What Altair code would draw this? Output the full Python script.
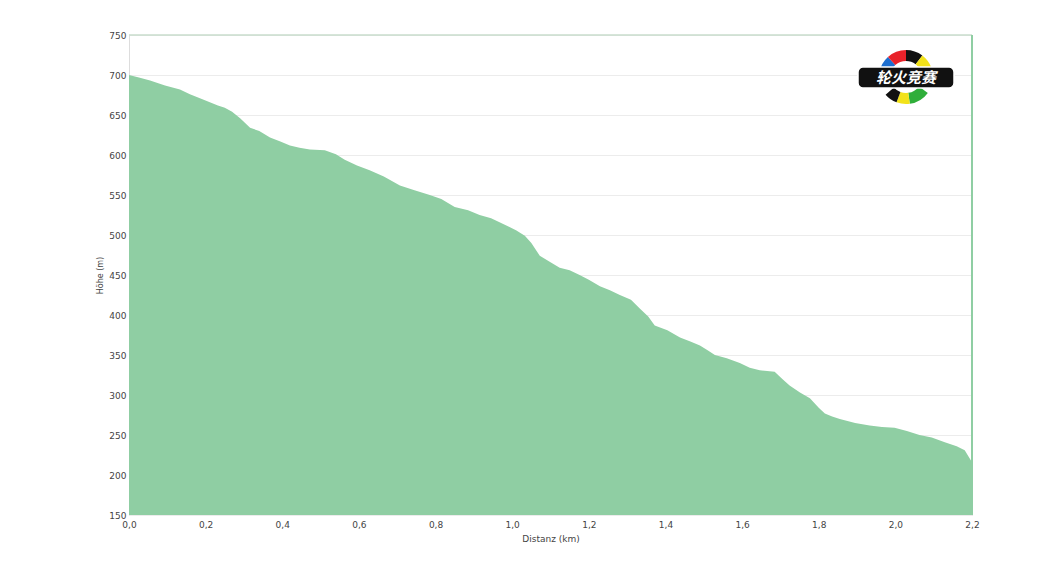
import altair as alt
import pandas as pd

distance = [0.0, 0.026, 0.055, 0.094, 0.133, 0.159, 0.190, 0.232, 0.250, 0.269, 0.290,
            0.316, 0.340, 0.368, 0.395, 0.420, 0.445, 0.472, 0.511, 0.540,
            0.563, 0.595, 0.628, 0.665, 0.707, 0.745, 0.785, 0.815, 0.850, 0.885,
            0.915, 0.945, 0.967, 0.993, 1.010, 1.033, 1.050, 1.072, 1.100,
            1.124, 1.150, 1.176, 1.200, 1.229, 1.255, 1.281, 1.310, 1.333, 1.355,
            1.372, 1.405, 1.438, 1.465, 1.490, 1.510, 1.529, 1.560, 1.594, 1.620,
            1.646, 1.685, 1.705, 1.724, 1.751, 1.777, 1.800, 1.816, 1.835, 1.855,
            1.895, 1.933, 1.965, 1.998, 2.030, 2.063, 2.095, 2.129, 2.160, 2.181, 2.2]
elevation = [700, 697, 693, 687, 682, 676, 670, 662, 659, 654, 646,
             634, 630, 622, 617, 612, 609, 607, 606, 601,
             594, 587, 581, 573, 562, 556, 550, 545, 535, 531,
             525, 521, 516, 510, 506, 499, 490, 474, 466,
             459, 456, 450, 444, 436, 431, 425, 419, 408, 398,
             387, 381, 372, 367, 362, 356, 350, 346, 340, 334,
             331, 329, 320, 312, 303, 296, 284, 277, 273, 270,
             265, 262, 260, 259, 255, 250, 247, 241, 236, 231, 216]

y_ticks = [150, 200, 250, 300, 350, 400, 450, 500, 550, 600, 650, 700, 750]
x_ticks = [0.0, 0.2, 0.4, 0.6, 0.8, 1.0, 1.2, 1.4, 1.6, 1.8, 2.0, 2.2]

df = pd.DataFrame({"Distanz": distance, "Hoehe": elevation})

font = "DejaVu Sans"
W, H = 843, 480

x_scale = alt.Scale(domain=[0, 2.2], nice=False, zero=False)
y_scale = alt.Scale(domain=[150, 750], nice=False, zero=False)

area = alt.Chart(df).mark_area(
    color="#8fcea3", opacity=1, interpolate="linear", clip=True
).encode(
    x=alt.X("Distanz:Q", scale=x_scale,
            axis=alt.Axis(title="Distanz  (km)", values=x_ticks, format=".1f",
                          labelExpr="replace(datum.label, '.', ',')",
                          grid=False, domain=False, ticks=False,
                          labelOverlap=False, labelFontSize=9, labelColor="#444",
                          labelFont=font, labelPadding=5, labelAlign="center",
                          titleFontSize=9, titleFontWeight="normal", titleColor="#444",
                          titleFont=font, titlePadding=5)),
    y=alt.Y("Hoehe:Q", scale=y_scale,
            axis=alt.Axis(title="Höhe (m)", values=y_ticks, tickCount=13,
                          grid=True, gridColor="#ececec", gridWidth=1,
                          domain=False, ticks=False, labelOverlap=False,
                          labelFontSize=9, labelColor="#444", labelFont=font,
                          labelPadding=3,
                          titleFontSize=8, titleFontWeight="normal", titleColor="#444",
                          titleFont=font, titlePadding=4)),
    y2=alt.datum(150),
)

# plot frame: top border and green right edge (pixel positions of the frame)
top_border = alt.Chart(pd.DataFrame({"a": [0]})).mark_rule(
    color="#c9dccd", strokeWidth=1.5
).encode(y=alt.value(0), x=alt.value(0), x2=alt.value(W))

right_edge = alt.Chart(pd.DataFrame({"a": [0]})).mark_rule(
    color="#8fcea3", strokeWidth=2
).encode(x=alt.value(W), y=alt.value(0), y2=alt.value(H))

# logo: coloured ring segments behind a black label box
logo_arcs = pd.DataFrame({
    "c": ["#1e6fd0", "#e8222a", "#111111", "#f2e21a", "#2fae3a", "#f2e21a", "#111111"],
    "t1": [4.9, 5.55, 0.0, 0.65, 2.2, 3.0, 3.5],
    "t2": [5.55, 6.283, 0.65, 1.2, 3.0, 3.5, 4.0],
})
arcs = alt.Chart(logo_arcs).mark_arc(radius=27, radius2=16).encode(
    theta=alt.Theta("t1:Q", scale=None), theta2="t2:Q",
    color=alt.Color("c:N", scale=None),
    x=alt.value(777), y=alt.value(42),
)
logo_box = alt.Chart(pd.DataFrame({"a": [0]})).mark_rect(
    color="#111111", cornerRadius=5, stroke="#ffffff", strokeWidth=1.5
).encode(x=alt.value(729), x2=alt.value(825), y=alt.value(32), y2=alt.value(53))
logo_text = alt.Chart(pd.DataFrame({"t": ["轮火竞赛"]})).mark_text(
    font="Noto Sans CJK SC", fontSize=15, fontWeight="bold", color="white",
    fontStyle="italic"
).encode(text="t:N", x=alt.value(777), y=alt.value(43))

chart = alt.layer(area, top_border, right_edge, arcs, logo_box, logo_text).properties(
    width=W, height=H,
    autosize=alt.AutoSizeParams(type="none"),
    padding={"left": 121, "top": 27, "right": 40, "bottom": 40},
).configure_view(stroke=None).configure(background="white")

chart.save("out.html", embed_options={"renderer": "svg", "actions": False})
